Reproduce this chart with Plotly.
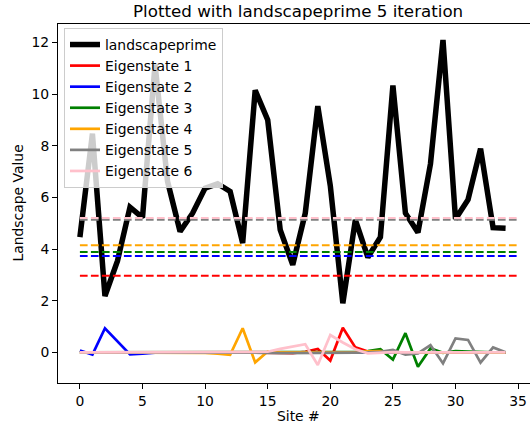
import plotly.graph_objects as go

sites = list(range(35))
landscape = [4.46, 8.47, 2.18, 3.54, 5.62, 5.22, 11.15, 6.62, 4.68, 5.39,
             6.36, 6.53, 6.23, 4.23, 10.15, 9.0, 4.74, 3.39, 5.39, 9.54,
             6.45, 1.9, 5.13, 3.68, 4.46, 10.34, 5.39, 4.64, 7.3, 12.1,
             5.16, 5.91, 7.89, 4.83, 4.81]

eig1 = [0.0, 0.0, 0.0, 0.0, 0.0, 0.0, 0.0, 0.0, 0.0, 0.0,
        0.0, 0.0, 0.0, 0.0, 0.0, -0.01, -0.02, -0.03, 0.02, 0.13,
        -0.32, 0.95, 0.19, 0.03, 0.01, 0.0, 0.0, 0.0, 0.0, 0.0,
        0.0, 0.0, 0.0, 0.0, 0.0]
eig2 = [0.07, -0.09, 0.93, 0.42, -0.08, -0.05, -0.01, 0.0, 0.0, 0.0,
        0.0, 0.0, 0.0, 0.0, 0.0, 0.0, 0.0, 0.0, 0.0, 0.0,
        0.0, 0.0, 0.0, 0.0, 0.0, 0.0, 0.0, 0.0, 0.0, 0.0,
        0.0, 0.0, 0.0, 0.0, 0.0]
eig3 = [0.0, 0.0, 0.0, 0.0, 0.0, 0.0, 0.0, 0.0, 0.0, 0.0,
        0.0, 0.0, 0.0, 0.0, 0.0, 0.0, 0.0, 0.0, 0.0, 0.0,
        0.0, 0.0, 0.01, 0.05, 0.12, -0.28, 0.74, -0.56, 0.15, -0.02,
        0.05, 0.03, 0.01, 0.0, 0.0]
eig4 = [0.0, 0.0, 0.0, 0.0, 0.0, 0.0, 0.0, 0.0, 0.0, 0.0,
        -0.02, -0.05, -0.1, 0.93, -0.39, 0.03, 0.0, 0.0, 0.0, 0.0,
        0.0, 0.0, 0.01, 0.04, 0.05, 0.01, 0.0, 0.0, 0.0, 0.0,
        0.0, 0.0, 0.0, 0.0, 0.0]
eig5 = [0.0, 0.0, 0.0, 0.0, 0.0, 0.0, 0.0, 0.0, 0.0, 0.0,
        0.0, 0.0, 0.0, 0.0, 0.0, -0.02, -0.03, -0.03, -0.03, -0.03,
        -0.02, -0.02, -0.01, 0.0, 0.02, 0.09, -0.09, -0.04, 0.28, -0.43,
        0.54, 0.48, -0.4, 0.19, 0.0]
eig6 = [0.0, 0.0, 0.0, 0.0, 0.0, 0.0, 0.0, 0.0, 0.0, 0.0,
        0.0, 0.0, 0.0, 0.0, 0.0, 0.02, 0.13, 0.22, 0.31, -0.49,
        0.67, 0.38, 0.12, -0.04, -0.02, 0.01, 0.0, 0.0, 0.0, 0.0,
        0.0, 0.0, 0.0, 0.0, 0.0]
energies = [2.97, 3.73, 3.89, 4.15, 5.14, 5.2]
energy_span = [0, 35]

names = ["Eigenstate 1", "Eigenstate 2", "Eigenstate 3",
         "Eigenstate 4", "Eigenstate 5", "Eigenstate 6"]
colors = ["#ff0000", "#0000ff", "#008000", "#ffa500", "#808080", "#ffc0cb"]
states = [eig1, eig2, eig3, eig4, eig5, eig6]

FONT = "DejaVu Sans"

fig = go.Figure()
fig.add_trace(go.Scatter(x=sites, y=landscape, mode="lines", name="landscapeprime",
                         line=dict(color="black", width=5.5)))
for name, col, st, en in zip(names, colors, states, energies):
    fig.add_trace(go.Scatter(x=sites, y=st, mode="lines", name=name,
                             line=dict(color=col, width=2.7)))
    fig.add_trace(go.Scatter(x=energy_span, y=[en, en], mode="lines", showlegend=False,
                             line=dict(color=col, width=2, dash="7.7px,3.3px")))

W, H = 530, 427
L, R, T, B = 58, 0, 24, 44
pw = W - L - R
ph = H - T - B


def px_x(page_x):
    return (page_x - L) / pw


def px_y(page_y):
    return 1 - (page_y - T) / ph


fig.update_layout(
    width=W, height=H,
    margin=dict(l=L, r=R, t=T, b=B),
    paper_bgcolor="white", plot_bgcolor="white",
    font=dict(family=FONT, size=13.9, color="black"),
    showlegend=True,
    legend=dict(x=px_x(64), y=px_y(28), xanchor="left", yanchor="top",
                bgcolor="rgba(255,255,255,0.8)", bordercolor="#cccccc", borderwidth=1,
                font=dict(family=FONT, size=13.9, color="black"),
                itemwidth=30, tracegroupgap=0),
    xaxis=dict(range=[-1.75, 35.95], tickvals=[0, 5, 10, 15, 20, 25, 30, 35],
               showgrid=False, zeroline=False, showline=True, linecolor="black",
               linewidth=1, mirror=True, ticks="outside", ticklen=5, tickwidth=1,
               tickcolor="black", tickfont=dict(family=FONT, size=13.9, color="black")),
    yaxis=dict(range=[-1.19, 12.72], tickvals=[0, 2, 4, 6, 8, 10, 12],
               showgrid=False, zeroline=False, showline=True, linecolor="black",
               linewidth=1, mirror=False, ticks="outside", ticklen=5, tickwidth=1,
               tickcolor="black", tickfont=dict(family=FONT, size=13.9, color="black")),
    annotations=[
        dict(text="Plotted with landscapeprime 5 iteration", xref="paper", yref="paper",
             x=px_x(298), y=px_y(11), xanchor="center", yanchor="middle",
             showarrow=False, font=dict(family=FONT, size=16.7, color="black")),
        dict(text="Site #", xref="paper", yref="paper",
             x=px_x(298), y=px_y(416), xanchor="center", yanchor="middle",
             showarrow=False, font=dict(family=FONT, size=13.9, color="black")),
        dict(text="Landscape Value", xref="paper", yref="paper",
             x=px_x(17), y=0.5, xanchor="center", yanchor="middle", textangle=-90,
             showarrow=False, font=dict(family=FONT, size=13.9, color="black")),
    ],
)

fig.write_html("out.html", config={"displayModeBar": False},
               post_script="document.body.style.margin='0';document.body.style.overflow='hidden';")
